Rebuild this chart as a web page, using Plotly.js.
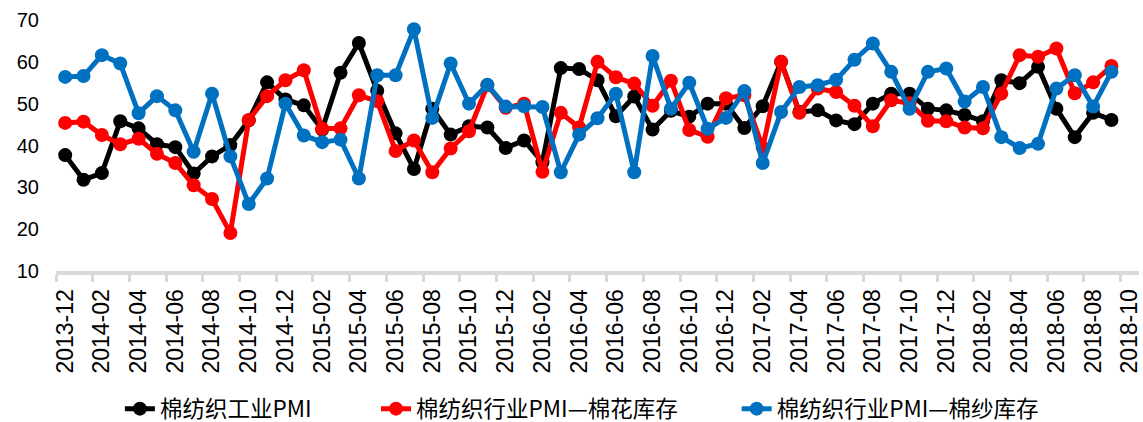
<!DOCTYPE html>
<html>
<head>
<meta charset="utf-8">
<script src="https://cdn.plot.ly/plotly-3.0.1.min.js"></script>
<style>html,body{margin:0;padding:0;background:#fff;}#chart{width:1143px;height:422px;}</style>
</head>
<body>
<div id="chart"></div>
<script>
// Month categories (axis runs to 2018-10, data ends 2018-09)
const months = ["2013-12","2014-01","2014-02","2014-03","2014-04","2014-05","2014-06","2014-07","2014-08","2014-09","2014-10","2014-11","2014-12",
"2015-01","2015-02","2015-03","2015-04","2015-05","2015-06","2015-07","2015-08","2015-09","2015-10","2015-11","2015-12",
"2016-01","2016-02","2016-03","2016-04","2016-05","2016-06","2016-07","2016-08","2016-09","2016-10","2016-11","2016-12",
"2017-01","2017-02","2017-03","2017-04","2017-05","2017-06","2017-07","2017-08","2017-09","2017-10","2017-11","2017-12",
"2018-01","2018-02","2018-03","2018-04","2018-05","2018-06","2018-07","2018-08","2018-09","2018-10"];

const seriesNames = ["棉纺织工业PMI","棉纺织行业PMI—棉花库存","棉纺织行业PMI—棉纱库存"];

const pmiIndustry = [37.7,31.8,33.4,45.8,44.1,40.3,39.6,33.3,37.4,40.1,46.0,55.1,51.0,49.6,43.8,57.4,64.5,53.1,42.9,34.4,48.8,42.6,44.6,44.3,39.4,41.2,36.0,58.5,58.3,55.6,47.0,51.7,43.8,48.3,46.9,50.0,50.0,44.2,49.4,60.0,48.0,48.4,46.0,45.1,50.0,52.4,52.4,48.8,48.4,47.3,45.8,55.6,54.9,58.8,48.8,42.0,47.8,46.1];

const pmiCotton = [45.4,45.7,42.5,40.3,41.6,38.0,35.8,30.5,27.2,19.1,46.1,51.8,55.6,58.0,44.0,44.1,52.0,50.6,38.7,41.2,33.6,39.3,43.4,54.4,49.0,50.0,33.7,47.8,44.3,60.0,56.3,54.8,49.5,55.5,43.7,42.1,51.3,52.0,39.5,60.0,47.8,53.6,52.8,49.5,44.6,50.8,50.1,45.9,45.8,44.3,44.1,52.4,61.6,61.2,63.2,52.5,55.1,59.0];

const pmiYarn = [56.4,56.6,61.6,59.6,47.7,51.8,48.4,38.5,52.4,37.4,26.0,32.1,50.0,42.4,40.8,41.4,32.1,56.8,56.8,67.8,46.6,59.6,50.0,54.5,49.3,49.4,49.2,33.6,42.6,46.5,52.4,33.6,61.4,48.8,55.0,44.0,46.6,53.0,35.8,48.0,54.0,54.4,55.7,60.5,64.4,57.6,48.8,57.6,58.4,50.5,54.0,42.0,39.4,40.4,53.6,56.8,49.3,57.6];

const colors = ["#000000","#FF0000","#0070C0"];
const allSeries = [pmiIndustry, pmiCotton, pmiYarn];
const legendIds = ["legend","legend2","legend3"];
const legendX = [0.059, 0.2955, 0.6285];

const traces = allSeries.map((vals, i) => ({
  type: "scatter",
  mode: "lines+markers",
  name: seriesNames[i],
  legend: legendIds[i],
  x: months.slice(0, vals.length),
  y: vals,
  line: {color: colors[i], width: 5},
  marker: {color: colors[i], size: 14, symbol: "circle"},
  cliponaxis: false
}));

const legendBase = {
  orientation: "h",
  xanchor: "left",
  y: -0.55, yanchor: "middle",
  font: {family: "Noto Sans CJK SC, sans-serif", size: 22.5, color: "#000"},
  bgcolor: "rgba(0,0,0,0)"
};

const layout = {
  width: 1143,
  height: 422,
  margin: {l: 56, r: 4, t: 20, b: 151, autoexpand: false},
  paper_bgcolor: "#ffffff",
  plot_bgcolor: "#ffffff",
  showlegend: true,
  legend: Object.assign({}, legendBase, {x: legendX[0]}),
  legend2: Object.assign({}, legendBase, {x: legendX[1]}),
  legend3: Object.assign({}, legendBase, {x: legendX[2]}),
  xaxis: {
    type: "category",
    categoryorder: "array",
    categoryarray: months,
    range: [-0.5, months.length - 0.5],
    dtick: 2,
    tickson: "boundaries",
    ticks: "outside",
    ticklen: 7,
    tickwidth: 3,
    tickcolor: "#D9D9D9",
    showline: true,
    linecolor: "#D9D9D9",
    linewidth: 4,
    showgrid: false,
    zeroline: false,
    tickangle: -90,
    ticklabelstandoff: 5,
    automargin: false,
    tickfont: {family: "Liberation Sans, Arial, sans-serif", size: 23, color: "#000"},
    fixedrange: true
  },
  yaxis: {
    range: [10, 70],
    dtick: 10,
    showgrid: false,
    zeroline: false,
    showline: false,
    ticks: "",
    ticklabelstandoff: 16,
    automargin: false,
    tickfont: {family: "Liberation Sans, Arial, sans-serif", size: 20, color: "#000"},
    fixedrange: true
  }
};

Plotly.newPlot("chart", traces, layout, {displayModeBar: false, staticPlot: true});
</script>
</body>
</html>
